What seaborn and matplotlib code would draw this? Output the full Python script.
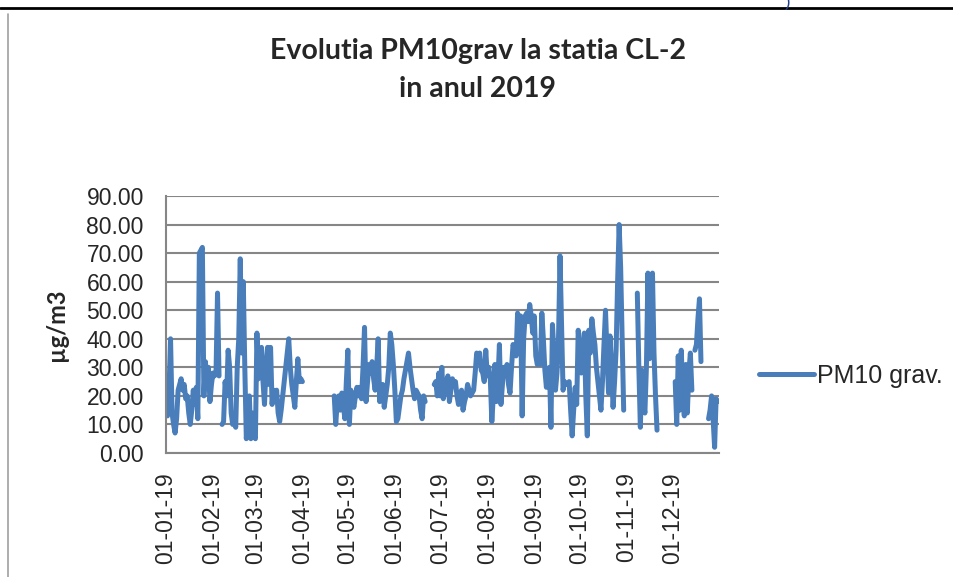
import numpy as np
import pandas as pd
import matplotlib
matplotlib.use("Agg")
import matplotlib.pyplot as plt
import matplotlib.dates as mdates
import matplotlib.transforms as mtransforms
from matplotlib.lines import Line2D
import seaborn as sns

nan = np.nan

jan = [16, 13, 22, 40, 14, 10, 7, 12, 22, 24, 26, 22, 24, 19, 20, 14, 10, 15, 22, 17,
       23, 12, 70, 71, 72, 20, 32, 25, 30, 18, 24]
feb = [28, 27, 28, 56, 27, nan, 10, 11, 25, 20, 36, 30, 14, 10, 12, 9, 30, 40, 68, 35,
       60, 30, 5, 12, 20, 5, 14, 6]
mar = [5, 42, 26, 30, 37, 25, 17, 30, 37, 24, 37, 17, 22, 19, 22, 14, 11, 15, 20, 25,
       30, 35, 40, 30, 24, 20, 16, 25, 33, 25, 26]
apr = [25] + [nan] * 20 + [20, 10, 18, 20, 15, 21, 17, 12, 25]
may = [36, 10, 22, 18, 16, 20, 23, 20, 23, 19, 30, 44, 18, 25, 31, 28, 32, 26, 22, 30,
       40, 18, 22, 24, 16, 20, 24, 30, 42, 38, 31]
jun = [22, 11, 12, 16, 20, 22, 26, 29, 32, 35, 30, 26, 22, 19, 22, 21, 20, 15, 12, 20,
       18, nan, nan, nan, nan, nan, 24, 25, 20, 28]
jul = [20, 30, 19, 22, 25, 27, 18, 22, 26, 24, 25, 20, 17, 20, 22, 15, 18, 20, 24, 22,
       20, 21, 22, 28, 35, 34, 35, 29, 28, 25, 36]
aug = [27, 30, 26, 11, 20, 31, 18, 25, 38, 17, 24, 30, 28, 31, 24, 21, 30, 38, 36, 34,
       49, 44, 48, 13, 40, 48, 49, 46, 52, 48, 42]
sep = [48, 34, 31, 33, 31, 49, 40, 29, 23, 28, 30, 9, 45, 35, 22, 28, 40, 69, 45, 22,
       25, 24, 24, 25, 15, 6, 15, 23, 17, 43]
oct_ = [35, 28, 35, 42, 20, 6, 43, 35, 47, 42, 38, 30, 25, 20, 15, 25, 38, 50, 35, 21,
        41, 30, 16, 25, 36, 60, 80, 65, 40, 15, nan]
nov = [nan, nan, nan, nan, nan, nan, nan, 56, 30, 9, 29, 18, 14, 30, 63, 33, 45, 63, 35, 20,
       8, nan, nan, nan, nan, nan, nan, nan, nan, nan]
dec = [nan, nan, 25, 10, 34, 15, 36, 20, 13, 31, 14, 28, 35, 22, nan, 36, 38, 47, 54, 32,
       nan, nan, nan, nan, 12, 15, 20, 12, 2, 19, 18]

values = jan + feb + mar + apr + may + jun + jul + aug + sep + oct_ + nov + dec
dates = pd.date_range("2019-01-01", periods=len(values), freq="D")

y_ticks = [0, 10, 20, 30, 40, 50, 60, 70, 80, 90]
series_name = "PM10 grav."
title = "Evolutia PM10grav la statia CL-2\nin anul 2019"

df = pd.DataFrame({"date": dates, "pm10": values})
# split into contiguous runs so the gaps stay open
df["seg"] = df["pm10"].isna().cumsum()
df = df.dropna()

sns.set_theme(style="white")
plt.rcParams["font.family"] = ["Liberation Sans", "DejaVu Sans"]

blue = "#4A7EBB"
grid_col = "#868686"

fig = plt.figure(figsize=(9.54, 5.77), dpi=100)
ax = fig.add_axes([0.174, 0.2149, 0.5797, 0.4454])

sns.lineplot(data=df, x="date", y="pm10", units="seg", estimator=None,
             color=blue, lw=3.6, ax=ax, legend=False)

ax.set_ylim(0, 90)
ax.set_yticks(y_ticks)
ax.set_yticklabels([f"{v:.2f}" for v in y_ticks], fontsize=16.5)
ax.set_xlim(pd.Timestamp("2019-01-01"), pd.Timestamp("2019-12-31 22:00"))
ax.xaxis.set_major_locator(mdates.MonthLocator())
ax.xaxis.set_major_formatter(mdates.DateFormatter("%d-%m-%y"))
shift = mtransforms.ScaledTranslation(0.06, 0, fig.dpi_scale_trans)
for lbl in ax.get_xticklabels():
    lbl.set_rotation(90)
    lbl.set_fontsize(16.5)
    lbl.set_transform(lbl.get_transform() + shift)
ax.tick_params(axis="y", length=0, pad=16)
ax.tick_params(axis="x", length=0, pad=14)

ax.grid(axis="y", color=grid_col, lw=1.5)
ax.set_axisbelow(True)
for side in ["top", "right"]:
    ax.spines[side].set_visible(False)
for side in ["left", "bottom"]:
    ax.spines[side].set_color(grid_col)
    ax.spines[side].set_linewidth(1.5)

ax.set_xlabel("")
ax.set_ylabel("µg/m3", fontsize=17, fontweight="bold", family=["Lato", "DejaVu Sans"], labelpad=13)

fig.text(0.501, 0.879, title, ha="center", va="center", fontsize=20.5,
         fontweight="bold", family=["Lato", "DejaVu Sans"], linespacing=1.6)

handle = Line2D([], [], color=blue, lw=3.6)
ax.legend([handle], [series_name], loc="center left", bbox_to_anchor=(1.055, 0.3),
          frameon=False, fontsize=18, handlelength=2.2, handletextpad=0.1,
          borderaxespad=0)

# surrounding document frame
fig.add_artist(Line2D([0, 1], [0.986, 0.986], color="black", lw=2))
fig.add_artist(Line2D([0.0084, 0.0084], [0, 0.975], color="#a0a0a0", lw=1.2))
fig.text(0.826, 0.995, ")", color="#1f3f8f", fontsize=12, ha="center", va="center")

fig.savefig("out.png", dpi=100)
